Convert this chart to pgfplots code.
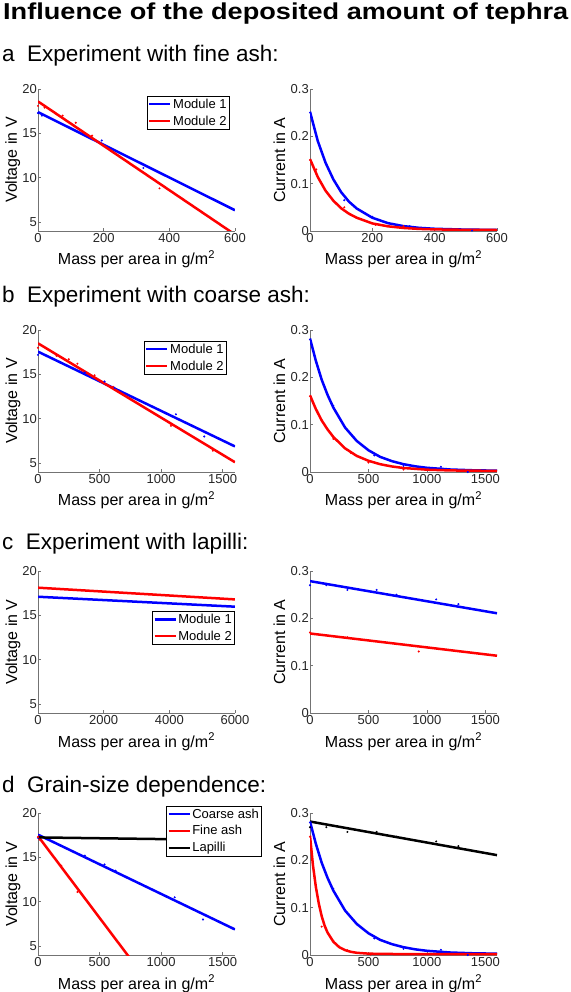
\documentclass[border=0pt]{standalone}
\usepackage{fontspec}
\setmainfont{Liberation Sans}
\usepackage{pgfplots}
\pgfplotsset{compat=1.18}
\usepackage{graphicx}

\pgfplotsset{
  myax/.style={
    scale only axis, width=197pt, height=142pt, anchor=north west,
    axis x line*=bottom, axis y line*=left,
    axis line style={black!55, line width=0.6pt, -},
    tick style={black!55, line width=0.6pt},
    tick align=inside, major tick length=3pt,
    xticklabel style={font=\fontsize{13}{13}\selectfont, inner sep=2pt, text=black!85},
    yticklabel style={font=\fontsize{13}{13}\selectfont, inner sep=1pt, text=black!85},
    /pgf/number format/assume math mode=true,
    /pgf/number format/1000 sep={},
    scaled ticks=false,
    every axis x label/.style={at={(axis description cs:0.5,-0.2394)}, anchor=base, font=\fontsize{16}{16}\selectfont},
    xlabel={Mass per area in g/m\textsuperscript{2}},
    legend style={font=\fontsize{13}{13}\selectfont, draw=black, line width=0.5pt, fill=white,
      inner sep=1pt, row sep=3pt, nodes={inner sep=1.5pt}, anchor=north west},
    legend cell align=left,
    legend image code/.code={\draw[line width=2.5pt] (0pt,0pt) -- (21pt,0pt);},
  },
  vax/.style={myax, ymin=4, ymax=20, ytick={5,10,15,20}, ylabel={Voltage in V},
    every axis y label/.style={at={(axis description cs:-0.1066,0.5)}, rotate=90, anchor=base, font=\fontsize{16}{16}\selectfont}},
  cax/.style={myax, width=187pt, ymin=0, ymax=0.3, ytick={0,0.1,0.2,0.3}, ylabel={Current in A},
    yticklabel style={/pgf/number format/fixed},
    every axis y label/.style={at={(axis description cs:-0.1337,0.5)}, rotate=90, anchor=base, font=\fontsize{16}{16}\selectfont}},
  fitline/.style={line width=2.5pt, no markers},
  dots/.style={only marks, mark=*, mark size=0.8pt, forget plot},
}

\begin{document}
\begin{tikzpicture}
\useasboundingbox (0,0) rectangle (570pt,-992pt);
\node[anchor=base west, inner sep=0pt] at (3pt,-20pt) {\resizebox{565pt}{\height}{\fontsize{23}{23}\selectfont\bfseries Influence of the deposited amount of tephra}};
\node[anchor=base west, inner sep=0pt, font=\fontsize{22.5}{22.5}\selectfont] at (2pt,-62pt) {a\ \ Experiment with fine ash:};
\node[anchor=base west, inner sep=0pt, font=\fontsize{22.5}{22.5}\selectfont] at (2pt,-302pt) {b\ \ Experiment with coarse ash:};
\node[anchor=base west, inner sep=0pt, font=\fontsize{22.5}{22.5}\selectfont] at (2pt,-549pt) {c\ \ Experiment with lapilli:};
\node[anchor=base west, inner sep=0pt, font=\fontsize{22.5}{22.5}\selectfont] at (2pt,-792pt) {d\ \ Grain-size dependence:};

% ---------- a left
\begin{axis}[vax, at={(38pt,-89pt)}, xmin=0, xmax=600, xtick={0,200,400,600},
  legend style={at={(0.553,0.951)}}]
\addplot[fitline, blue] coordinates {(0,17.4) (600,6.34)}; \addlegendentry{Module 1}
\addplot[fitline, red] coordinates {(0,18.6) (600,3.6)}; \addlegendentry{Module 2}
\addplot[dots, blue] coordinates {(0,17.3) (12,17.0) (194,14.2) (321,11.1)};
\addplot[dots, red] coordinates {(0,18.1) (20,17.9) (75,17.0) (115,16.2) (165,14.75) (370,8.8)};
\end{axis}
% ---------- a right
\begin{axis}[cax, at={(310pt,-89pt)}, xmin=0, xmax=600, xtick={0,200,400,600}]
\addplot[fitline, blue] coordinates {(0,0.252) (25,0.190) (50,0.144) (75,0.109) (100,0.082) (125,0.062) (150,0.0475) (200,0.028) (250,0.0166) (300,0.0103) (350,0.0067) (400,0.0047) (500,0.0029) (600,0.0023)};
\addplot[fitline, red] coordinates {(0,0.152) (25,0.114) (50,0.085) (75,0.064) (100,0.048) (125,0.0365) (150,0.028) (200,0.016) (250,0.0099) (300,0.0064) (350,0.0044) (400,0.0034) (500,0.0024) (600,0.0021)};
\addplot[dots, blue] coordinates {(0,0.25) (110,0.065) (200,0.03) (320,0.01) (520,0.001)};
\addplot[dots, red] coordinates {(0,0.15) (20,0.13) (110,0.05) (210,0.013) (300,0.01) (400,0.003)};
\end{axis}

% ---------- b left
\begin{axis}[vax, at={(38pt,-330pt)}, xmin=0, xmax=1600, xtick={0,500,1000,1500},
  legend style={at={(0.538,0.923)}}]
\addplot[fitline, blue] coordinates {(0,17.56) (1600,6.88)}; \addlegendentry{Module 1}
\addplot[fitline, red] coordinates {(0,18.5) (1600,5.1)}; \addlegendentry{Module 2}
\addplot[dots, blue] coordinates {(0,17.2) (380,15.2) (540,14.2) (620,13.5) (1120,10.5) (1350,8.0)};
\addplot[dots, red] coordinates {(0,18.0) (150,17.1) (250,16.7) (320,16.2) (460,14.9) (610,13.6) (1080,9.2) (1420,6.4)};
\end{axis}
% ---------- b right
\begin{axis}[cax, at={(310pt,-330pt)}, xmin=0, xmax=1600, xtick={0,500,1000,1500}]
\addplot[fitline, blue] coordinates {(0,0.282) (50,0.235) (100,0.195) (150,0.163) (200,0.136) (300,0.094) (400,0.0656) (500,0.046) (600,0.032) (700,0.023) (800,0.0165) (900,0.012) (1000,0.0089) (1200,0.0053) (1400,0.0036) (1600,0.0028)};
\addplot[fitline, red] coordinates {(0,0.162) (50,0.133) (100,0.109) (150,0.090) (200,0.074) (300,0.050) (400,0.034) (500,0.0237) (600,0.0165) (700,0.0117) (800,0.0085) (1000,0.0049) (1200,0.0033) (1600,0.0023)};
\addplot[dots, blue] coordinates {(0,0.28) (200,0.14) (550,0.035) (800,0.013) (1120,0.011) (1350,0.0)};
\addplot[dots, red] coordinates {(0,0.16) (60,0.13) (200,0.07) (350,0.04) (500,0.02) (800,0.005) (1400,0.002)};
\end{axis}

% ---------- c left
\begin{axis}[vax, at={(38pt,-571pt)}, xmin=0, xmax=6000, xtick={0,2000,4000,6000},
  legend style={at={(0.579,0.718)}}]
\addplot[fitline, blue] coordinates {(0,17.1) (6000,15.98)}; \addlegendentry{Module 1}
\addplot[fitline, red] coordinates {(0,18.12) (6000,16.8)}; \addlegendentry{Module 2}
\end{axis}
% ---------- c right
\begin{axis}[cax, at={(310pt,-571pt)}, xmin=0, xmax=1600, xtick={0,500,1000,1500}]
\addplot[fitline, blue] coordinates {(0,0.2786) (1600,0.2107)};
\addplot[fitline, red] coordinates {(0,0.168) (1600,0.121)};
\addplot[dots, blue] coordinates {(0,0.27) (140,0.27) (320,0.26) (570,0.26) (740,0.25) (1080,0.24) (1270,0.23)};
\addplot[dots, red] coordinates {(0,0.17) (320,0.16) (930,0.13)};
\end{axis}

% ---------- d left
\begin{axis}[vax, at={(38pt,-813pt)}, xmin=0, xmax=1600, xtick={0,500,1000,1500},
  legend style={at={(0.650,1.050)}}]
\addplot[fitline, blue] coordinates {(0,17.56) (1600,6.88)}; \addlegendentry{Coarse ash}
\addplot[fitline, red] coordinates {(0,17.4) (800,2.66)}; \addlegendentry{Fine ash}
\addplot[fitline, black] coordinates {(0,17.25) (1600,16.95)}; \addlegendentry{Lapilli}
\addplot[dots, blue] coordinates {(0,17.2) (220,16.1) (380,15.2) (540,14.2) (630,13.5) (1110,10.5) (1340,8.0)};
\addplot[dots, red] coordinates {(0,17.3) (12,17.0) (189,14.06) (321,11.1)};
\end{axis}
% ---------- d right
\begin{axis}[cax, at={(310pt,-813pt)}, xmin=0, xmax=1600, xtick={0,500,1000,1500}]
\addplot[fitline, black] coordinates {(0,0.282) (1600,0.211)};
\addplot[fitline, blue] coordinates {(0,0.282) (50,0.235) (100,0.195) (150,0.163) (200,0.136) (300,0.094) (400,0.0656) (500,0.046) (600,0.032) (700,0.023) (800,0.0165) (900,0.012) (1000,0.0089) (1200,0.0053) (1400,0.0036) (1600,0.0028)};
\addplot[fitline, red] coordinates {(0,0.252) (25,0.190) (50,0.144) (75,0.109) (100,0.082) (125,0.062) (150,0.0475) (200,0.028) (250,0.0166) (300,0.0103) (350,0.0067) (400,0.0047) (500,0.0029) (600,0.0023) (800,0.002) (1600,0.002)};
\addplot[dots, black] coordinates {(0,0.27) (140,0.27) (320,0.26) (570,0.26) (740,0.25) (1080,0.24) (1270,0.23)};
\addplot[dots, blue] coordinates {(0,0.28) (200,0.14) (550,0.035) (800,0.013) (1120,0.011) (1350,0.0)};
\addplot[dots, red] coordinates {(0,0.25) (100,0.06) (200,0.03) (320,0.01) (520,0.001)};
\end{axis}
\end{tikzpicture}
\end{document}
